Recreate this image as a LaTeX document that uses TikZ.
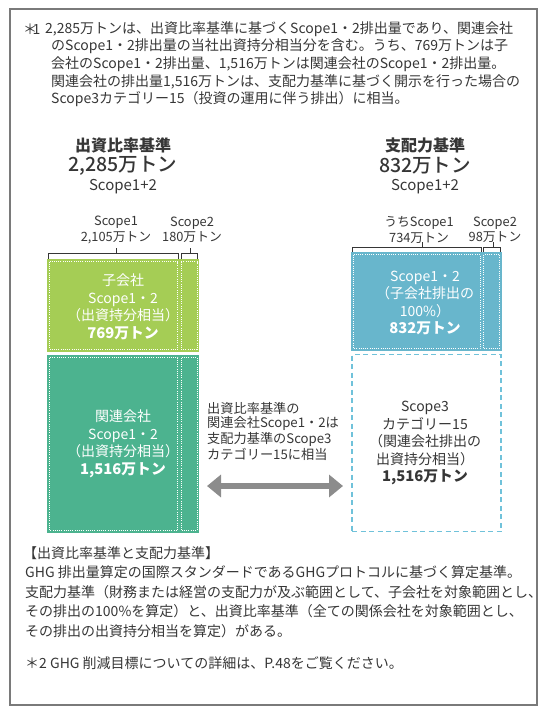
\documentclass[tikz,border=0pt]{standalone}
\usepackage{fontspec}
\setmainfont{Noto Sans CJK JP}
\newfontfamily\jpmed{Noto Sans CJK JP Medium}
\usetikzlibrary{arrows.meta}
\definecolor{txt}{HTML}{363636}
\definecolor{framec}{HTML}{7A7A7A}
\definecolor{limeg}{HTML}{A5CD55}
\definecolor{tealg}{HTML}{4CB38F}
\definecolor{blueb}{HTML}{68B6CC}
\definecolor{dashb}{HTML}{70C2DA}
\definecolor{arrowg}{HTML}{8C8C8C}
\newcommand\amountfont{\fontsize{14.8}{17.5}\selectfont\bfseries}
\tikzset{
  para/.style={anchor=west, inner sep=0pt, text=txt, font=\fontsize{14}{16}\selectfont},
  midtxt/.style={anchor=west, inner sep=0pt, text=txt, font=\fontsize{13.2}{15.5}\selectfont},
  headA/.style={inner sep=0pt, text=txt, font=\fontsize{16}{18}\selectfont\bfseries},
  headB/.style={inner sep=0pt, text=txt, font=\fontsize{19.5}{24}\jpmed},
  headC/.style={inner sep=0pt, text=txt, font=\fontsize{15}{17}\selectfont},
  sclabel/.style={inner sep=0pt, text=txt, align=center, font=\fontsize{12.8}{15.5}\selectfont},
  barbox/.style={inner sep=0pt, draw=none},
  boxtxt/.style={inner sep=0pt, align=center, font=\fontsize{14}{17.5}\selectfont},
  wdot/.style={draw=white, line width=0.8pt, dash pattern=on 1pt off 1.2pt},
  brk/.style={draw=txt, line width=0.8pt},
  fatarrow/.style={draw=arrowg, line width=6pt, {Triangle[width=22pt,length=14pt]}-{Triangle[width=22pt,length=14pt]}}
}
\begin{document}
\begin{tikzpicture}[x=1pt,y=-1pt]
\useasboundingbox (0,0) rectangle (541,708);
\draw[framec, line width=1.2pt] (10,9) rectangle (537,705);

% top note
\node[para] (n1s) at (23,29) {＊\kern-4.5pt 1};
\node[para] (n1a) at (45,29) {2,285万トンは、出資比率基準に基づくScope1・2排出量であり、関連会社};
\node[para] (n1b) at (51,46.5) {のScope1・2排出量の当社出資持分相当分を含む。うち、769万トンは子};
\node[para] (n1c) at (51,64) {会社のScope1・2排出量、1,516万トンは関連会社のScope1・2排出量。};
\node[para] (n1d) at (51,81.5) {関連会社の排出量1,516万トンは、支配力基準に基づく開示を行った場合の};
\node[para] (n1e) at (51,99) {Scope3カテゴリー15（投資の運用に伴う排出）に相当。};

% headings
\node[headA] (hl1) at (123,145) {出資比率基準};
\node[headB] (hl2) at (123,166) {2,285万トン};
\node[headC] (hl3) at (123,187) {Scope1+2};
\node[headA] (hr1) at (425,145) {支配力基準};
\node[headB] (hr2) at (425,166) {832万トン};
\node[headC] (hr3) at (425,187) {Scope1+2};

% scope labels
\node[sclabel] (ls1) at (116,230) {Scope1\\2,105万トン};
\node[sclabel] (ls2) at (192,230) {Scope2\\180万トン};
\node[sclabel] (rs1) at (419,230) {うちScope1\\734万トン};
\node[sclabel] (rs2) at (495,230) {Scope2\\98万トン};

% brackets
\draw[brk] (48,259) -- (48,253) -- (178,253) -- (178,259);
\draw[brk] (116,253) -- (116,248);
\draw[brk] (181,259) -- (181,253) -- (197,253) -- (197,259);
\draw[brk] (190,253) -- (190,248);
\draw[brk] (352,252) -- (352,247) -- (481,247) -- (481,252);
\draw[brk] (422,247) -- (422,242);
\draw[brk] (483,252) -- (483,247) -- (500,247) -- (500,252);
\draw[brk] (493,247) -- (493,242);

% left boxes
\node[barbox, fill=limeg, minimum width=152pt, minimum height=93pt] (subs) at (123,305.5) {};
\node[barbox, fill=tealg, minimum width=152pt, minimum height=178pt] (assoc) at (123,444) {};
\draw[wdot] (49.5,261.5) rectangle (177.5,349.5);
\draw[wdot] (181,261.5) rectangle (197,349.5);
\draw[wdot] (49.5,357.5) rectangle (177.5,530.5);
\draw[wdot] (181,357.5) rectangle (197,530.5);
\node[boxtxt, text=white] (subst) at (123,307) {子会社\\Scope1・2\\（出資持分相当）\\{\amountfont 769万トン}};
\node[boxtxt, text=white] (assoct) at (123,444) {関連会社\\Scope1・2\\（出資持分相当）\\{\amountfont 1,516万トン}};

% right boxes
\node[barbox, fill=blueb, minimum width=151pt, minimum height=99pt] (ctrl) at (426.5,301.5) {};
\draw[wdot] (353.5,254.5) rectangle (480,348.5);
\draw[wdot] (483.5,254.5) rectangle (499.5,348.5);
\node[barbox, draw=dashb, line width=1.5pt, dash pattern=on 5pt off 3.5pt, minimum width=149pt, minimum height=177pt] (sc3) at (426.5,443) {};
\node[boxtxt, text=white] (ctrlt) at (425,303) {Scope1・2\\（子会社排出の\\100\%）\\{\amountfont 832万トン}};
\node[boxtxt, text=txt] (sc3t) at (425,443) {Scope3\\カテゴリー15\\（関連会社排出の\\出資持分相当）\\{\amountfont 1,516万トン}};

% middle text and arrow
\node[midtxt] (m1) at (207,408) {出資比率基準の};
\node[midtxt] (m2) at (207,423.5) {関連会社Scope1・2は};
\node[midtxt] (m3) at (207,439) {支配力基準のScope3};
\node[midtxt] (m4) at (207,454.5) {カテゴリー15に相当};
\coordinate (aL) at (207,486);
\coordinate (aR) at (343,486);
\draw[fatarrow] (aL) -- (aR);

% bottom note
\node[para] (b1) at (23,553) {【出資比率基準と支配力基準】};
\node[para] (b2) at (25,572.5) {GHG 排出量算定の国際スタンダードであるGHGプロトコルに基づく算定基準。};
\node[para] (b3) at (25,592) {支配力基準（財務または経営の支配力が及ぶ範囲として、子会社を対象範囲とし、};
\node[para] (b4) at (25,611.5) {その排出の100\%を算定）と、出資比率基準（全ての関係会社を対象範囲とし、};
\node[para] (b5) at (25,631) {その排出の出資持分相当を算定）がある。};
\node[para] (b6) at (25,663) {＊2 GHG 削減目標についての詳細は、P.48をご覧ください。};
\end{tikzpicture}
\end{document}
